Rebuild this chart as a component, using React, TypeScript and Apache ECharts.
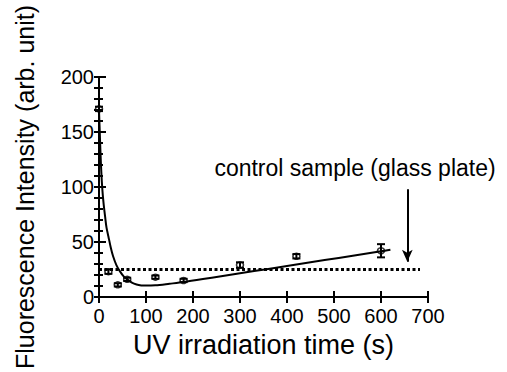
import React, { useEffect, useRef } from "react";
import * as echarts from "echarts";

const timeS = [0, 20, 40, 60, 120, 180, 300, 420, 600];
const intensity = [171, 23, 11, 16, 18, 15, 29, 37, 42];
const errors = [2, 2, 1.5, 1.5, 1.5, 1.5, 2.5, 2, 6];

const fitX = [0, 2, 4, 6, 8, 10, 13, 16, 20, 25, 30, 37, 45, 52, 60, 70, 80, 90, 100, 120, 150, 180, 240, 300, 360, 420, 480, 540, 600, 620];
const fitY = [170, 145, 122, 105, 93, 84, 73, 63, 55, 45, 37, 29, 23, 19, 16, 13, 11.3, 10.5, 10.3, 10.6, 12, 13.5, 17.5, 21.5, 25.5, 29.5, 33.5, 37.5, 41.5, 43];

const controlLevel = 25;
const controlX = [0, 683];
const arrowX = 656;
const arrowY = [98, 32];
const annotation = "control sample (glass plate)";

const xTitle = "UV irradiation time (s)";
const yTitle = "Fluorescence Intensity (arb. unit)";

const FONT = "'Liberation Sans', Arial, Helvetica, sans-serif";

export default function App() {
  const ref = useRef<HTMLDivElement>(null);
  useEffect(() => {
    if (!ref.current) return;
    const chart = echarts.init(ref.current, null, { renderer: "svg" });
    const axisLine = { show: true, lineStyle: { color: "#000", width: 2 } };
    chart.setOption({
      animation: false,
      backgroundColor: "#fff",
      textStyle: { fontFamily: FONT, color: "#000" },
      grid: { left: 99, right: 79, top: 77, bottom: 73, containLabel: false },
      xAxis: [
        {
          type: "value",
          min: 0,
          max: 700,
          interval: 100,
          position: "bottom",
          axisLine,
          axisTick: { inside: true, length: 6, lineStyle: { color: "#000", width: 2 } },
          axisLabel: { fontSize: 20, color: "#000", margin: 9, fontFamily: FONT },
          splitLine: { show: false },
          name: xTitle,
          nameLocation: "middle",
          nameGap: 35,
          nameTextStyle: { fontSize: 27, color: "#000", fontFamily: FONT },
        },
        {
          type: "value",
          min: 0,
          max: 700,
          interval: 100,
          position: "top",
          axisLine,
          axisTick: { inside: true, length: 6, lineStyle: { color: "#000", width: 2 } },
          axisLabel: { show: false },
          splitLine: { show: false },
        },
      ],
      yAxis: [
        {
          type: "value",
          min: 0,
          max: 200,
          interval: 50,
          position: "left",
          axisLine,
          axisTick: { inside: true, length: 7, lineStyle: { color: "#000", width: 2 } },
          minorTick: { show: true, splitNumber: 5, length: 4, lineStyle: { color: "#000", width: 2 } },
          axisLabel: { fontSize: 20, color: "#000", margin: 5, fontFamily: FONT },
          splitLine: { show: false },
          name: yTitle,
          nameLocation: "middle",
          nameGap: 62,
          nameTextStyle: { fontSize: 25, color: "#000", fontFamily: FONT },
        },
        {
          type: "value",
          min: 0,
          max: 200,
          interval: 10,
          position: "right",
          axisLine,
          axisTick: { inside: true, length: 5, lineStyle: { color: "#000", width: 2 } },
          axisLabel: { show: false },
          splitLine: { show: false },
        },
      ],
      graphic: [
        {
          type: "text",
          x: 355,
          y: 168,
          style: {
            text: annotation,
            fontSize: 23,
            fontFamily: FONT,
            fill: "#000",
            align: "center",
            verticalAlign: "middle",
          },
        },
      ],
      series: [
        {
          type: "line",
          name: "control",
          data: controlX.map((x) => [x, controlLevel]),
          symbol: "none",
          lineStyle: { color: "#000", width: 3, type: [3, 2.5] },
          silent: true,
          markLine: {
            symbol: ["none", "arrow"],
            symbolSize: [8, 12],
            silent: true,
            label: { show: false },
            lineStyle: { color: "#000", width: 2, type: "solid" },
            data: [[{ coord: [arrowX, arrowY[0]] }, { coord: [arrowX, arrowY[1]] }]],
          },
        },
        {
          type: "line",
          name: "fit",
          data: fitX.map((x, i) => [x, fitY[i]]),
          symbol: "none",
          smooth: 0.3,
          lineStyle: { color: "#000", width: 2 },
          silent: true,
        },
        {
          type: "custom",
          name: "error",
          data: timeS.map((x, i) => [x, intensity[i] - errors[i], intensity[i] + errors[i]]),
          renderItem: (params: any, api: any) => {
            const x = api.value(0);
            const lo = api.coord([x, api.value(1)]);
            const hi = api.coord([x, api.value(2)]);
            const w = 4;
            const style = { stroke: "#000", lineWidth: 2 };
            return {
              type: "group",
              children: [
                { type: "line", shape: { x1: lo[0], y1: lo[1], x2: hi[0], y2: hi[1] }, style },
                { type: "line", shape: { x1: lo[0] - w, y1: lo[1], x2: lo[0] + w, y2: lo[1] }, style },
                { type: "line", shape: { x1: hi[0] - w, y1: hi[1], x2: hi[0] + w, y2: hi[1] }, style },
              ],
            };
          },
          silent: true,
          z: 3,
        },
        {
          type: "scatter",
          name: "data",
          data: timeS.map((x, i) => [x, intensity[i]]),
          symbol: "circle",
          symbolSize: [7, 6],
          itemStyle: { color: "transparent", borderColor: "#000", borderWidth: 1.5 },
          silent: true,
          z: 4,
        },
      ],
    });
    return () => chart.dispose();
  }, []);
  return (
    <div
      ref={ref}
      style={{ position: "fixed", left: 0, top: 0, width: 507, height: 372, background: "#fff" }}
    />
  );
}
